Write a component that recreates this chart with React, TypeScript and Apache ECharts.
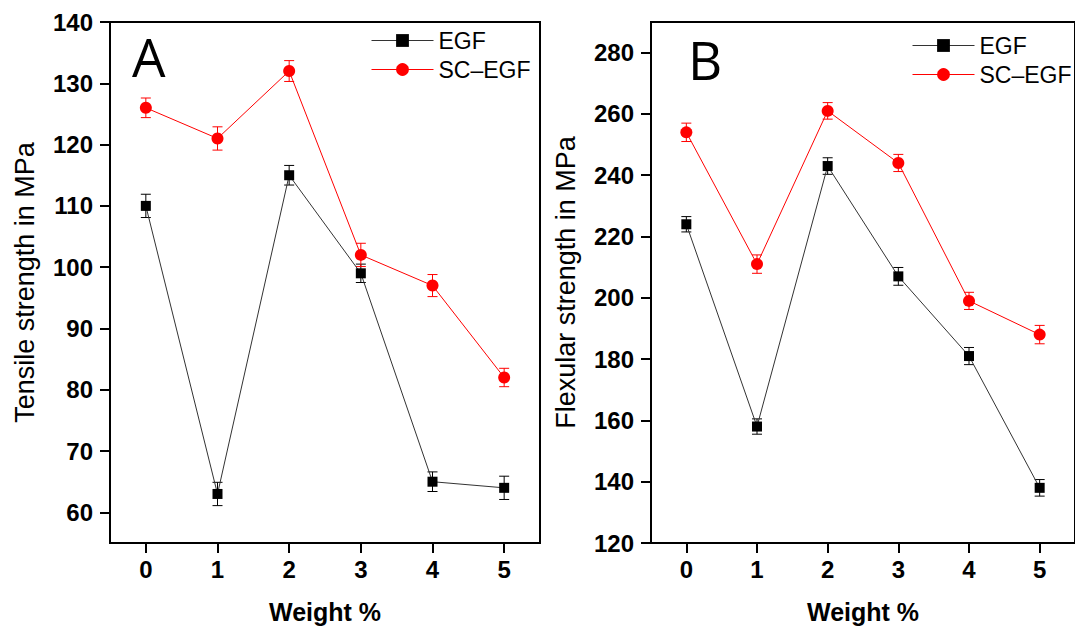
import React, { useEffect, useRef } from "react";
import * as echarts from "echarts";

const weights = [0, 1, 2, 3, 4, 5];
const seriesNames = ["EGF", "SC–EGF"];

// Panel A: Tensile strength (MPa)
const tensileEGF = [110, 63, 115, 99, 65, 64];
const tensileEGFErr = [1.9, 1.9, 1.6, 1.5, 1.6, 1.9];
const tensileSC = [126, 121, 132, 102, 97, 82];
const tensileSCErr = [1.6, 1.9, 1.7, 1.9, 1.8, 1.5];

// Panel B: Flexular strength (MPa)
const flexEGF = [224, 158, 243, 207, 181, 138];
const flexEGFErr = [2.5, 2.5, 2.7, 2.9, 2.8, 2.7];
const flexSC = [254, 211, 261, 244, 199, 188];
const flexSCErr = [3.0, 3.0, 2.7, 2.8, 2.8, 3.0];

const tensileTicks = [60, 70, 80, 90, 100, 110, 120, 130, 140];
const flexTicks = [120, 140, 160, 180, 200, 220, 240, 260, 280];

const FONT = "'Liberation Sans', Arial, sans-serif";

function pairs(vals: number[]) {
  return weights.map((w, i) => [w, vals[i]]);
}
function triples(vals: number[], errs: number[]) {
  return weights.map((w, i) => [w, vals[i], errs[i]]);
}

function errorSeries(idx: number, vals: number[], errs: number[], color: string) {
  return {
    type: "custom",
    xAxisIndex: idx,
    yAxisIndex: idx,
    z: 1,
    silent: true,
    data: triples(vals, errs),
    renderItem: (params: any, api: any) => {
      const x = api.value(0);
      const y = api.value(1);
      const e = api.value(2);
      const top = api.coord([x, y + e]);
      const bot = api.coord([x, y - e]);
      const hw = 5;
      const st = { stroke: color, lineWidth: 1 };
      return {
        type: "group",
        children: [
          { type: "line", shape: { x1: top[0], y1: top[1], x2: bot[0], y2: bot[1] }, style: st },
          { type: "line", shape: { x1: top[0] - hw, y1: top[1], x2: top[0] + hw, y2: top[1] }, style: st },
          { type: "line", shape: { x1: bot[0] - hw, y1: bot[1], x2: bot[0] + hw, y2: bot[1] }, style: st },
        ],
      };
    },
  };
}

function lineSeries(idx: number, name: string, vals: number[], color: string, lineColor: string, symbol: string, size: number) {
  return {
    type: "line",
    name,
    xAxisIndex: idx,
    yAxisIndex: idx,
    z: 3,
    data: pairs(vals),
    symbol,
    symbolSize: size,
    showSymbol: true,
    itemStyle: { color },
    lineStyle: { color: lineColor, width: 1 },
  };
}

function xAxis(idx: number) {
  return {
    type: "value",
    gridIndex: idx,
    min: -0.5,
    max: 5.5,
    splitLine: { show: false },
    axisLine: { show: true, onZero: false, lineStyle: { color: "#000", width: 2 } },
    axisTick: { show: true, inside: false, length: 10, lineStyle: { color: "#000", width: 2 }, customValues: weights },
    axisLabel: { show: true, customValues: weights, margin: 14, color: "#000", fontSize: 24, fontWeight: "bold", fontFamily: FONT },
    name: "Weight %",
    nameLocation: "middle",
    nameGap: 56,
    nameTextStyle: { color: "#000", fontSize: 25, fontWeight: "bold", fontFamily: FONT },
  };
}

function yAxis(idx: number, min: number, max: number, ticks: number[], name: string) {
  return {
    type: "value",
    gridIndex: idx,
    min,
    max,
    splitLine: { show: false },
    axisLine: { show: true, onZero: false, lineStyle: { color: "#000", width: 2 } },
    axisTick: { show: true, inside: false, length: 10, lineStyle: { color: "#000", width: 2 }, customValues: ticks },
    axisLabel: { show: true, customValues: ticks, margin: 17, color: "#000", fontSize: 24, fontWeight: "bold", fontFamily: FONT },
    name,
    nameLocation: "middle",
    nameGap: 72,
    nameTextStyle: { color: "#000", fontSize: 27, fontFamily: FONT },
  };
}

function legend(left: number, top: number) {
  return {
    orient: "vertical",
    left,
    top,
    itemWidth: 62,
    itemHeight: 16,
    itemGap: 6,
    selectedMode: false,
    data: seriesNames,
    lineStyle: { width: 1 },
    textStyle: { color: "#000", fontSize: 23, fontFamily: FONT },
  };
}

export default function App() {
  const ref = useRef<HTMLDivElement>(null);
  useEffect(() => {
    if (!ref.current) return;
    const chart = echarts.init(ref.current, null, { renderer: "svg" });
    chart.setOption({
      animation: false,
      backgroundColor: "#fff",
      grid: [
        { left: 110, top: 22, width: 430, height: 521, show: true, borderColor: "#000", borderWidth: 2, backgroundColor: "transparent" },
        { left: 651, top: 22, width: 430, height: 521, show: true, borderColor: "#000", borderWidth: 2, backgroundColor: "transparent" },
      ],
      xAxis: [xAxis(0), xAxis(1)],
      yAxis: [
        yAxis(0, 55, 140, tensileTicks, "Tensile strength in MPa"),
        yAxis(1, 120, 290, flexTicks, "Flexular strength in MPa"),
      ],
      legend: [legend(366, 24), legend(907, 29)],
      graphic: [
        { type: "text", left: 132, top: 30, style: { text: "A", fontSize: 53, fontFamily: "'Open Sans', sans-serif", fill: "#000" } },
        { type: "text", left: 688, top: 33, style: { text: "B", fontSize: 53, fontFamily: "'Open Sans', sans-serif", fill: "#000" } },
      ],
      series: [
        errorSeries(0, tensileEGF, tensileEGFErr, "#000"),
        errorSeries(0, tensileSC, tensileSCErr, "#ff0000"),
        errorSeries(1, flexEGF, flexEGFErr, "#000"),
        errorSeries(1, flexSC, flexSCErr, "#ff0000"),
        lineSeries(0, seriesNames[0], tensileEGF, "#000", "#333", "rect", 10),
        lineSeries(0, seriesNames[1], tensileSC, "#ff0000", "#ff0000", "circle", 12),
        lineSeries(1, seriesNames[0], flexEGF, "#000", "#333", "rect", 10),
        lineSeries(1, seriesNames[1], flexSC, "#ff0000", "#ff0000", "circle", 12),
      ],
    });
    return () => chart.dispose();
  }, []);
  return <div ref={ref} style={{ position: "fixed", left: 0, top: 0, width: 1075, height: 631 }} />;
}
